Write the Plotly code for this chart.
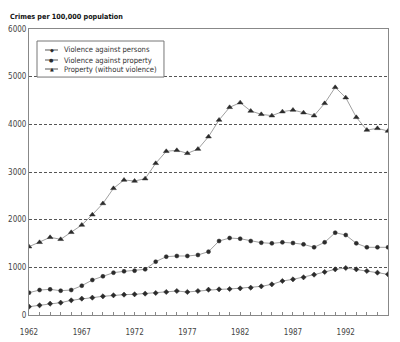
import plotly.graph_objects as go

years = list(range(1962, 1997))

persons = [175, 203, 238, 259, 308, 343, 364, 392, 413, 427, 434, 448, 462, 483, 503, 483, 503,
           531, 538, 545, 559, 573, 601, 643, 713, 748, 790, 846, 902, 958, 986, 958, 923, 888, 853]

property_violent = [468, 524, 538, 510, 524, 615, 734, 811, 888, 916, 930, 958, 1119, 1224, 1238, 1238, 1259,
                    1329, 1552, 1615, 1601, 1552, 1517, 1503, 1524, 1510, 1482, 1420, 1524, 1727, 1678, 1503, 1420, 1420, 1420]

property_nonviolent = [1433, 1525, 1630, 1588, 1735, 1888, 2104, 2340, 2657, 2832, 2811, 2860, 3182, 3434, 3455, 3392, 3480,
                       3741, 4091, 4357, 4455, 4280, 4210, 4182, 4266, 4300, 4245, 4182, 4440, 4776, 4560, 4147, 3881, 3916, 3860]

series_names = ["Violence against persons", "Violence against property", "Property (without violence)"]
series_glyphs = ["◆", "●", "▲"]
y_ticks = [0, 1000, 2000, 3000, 4000, 5000, 6000]
x_ticks = [1962, 1967, 1972, 1977, 1982, 1987, 1992]

FONT = "DejaVu Sans Condensed, Liberation Sans Narrow, Liberation Sans, sans-serif"
LINE = "#a0a0a0"
MARK = "#2b2b2b"

fig = go.Figure()
for name, vals, sym, size in [
    (series_names[0], persons, "diamond", 4),
    (series_names[1], property_violent, "circle", 4),
    (series_names[2], property_nonviolent, "triangle-up", 5),
]:
    fig.add_trace(go.Scatter(
        x=years, y=vals, name=name, mode="lines+markers",
        line=dict(color=LINE, width=1),
        marker=dict(symbol=sym, size=size, color=MARK, line=dict(color=MARK, width=0.5)),
        showlegend=False,
    ))

fig.update_layout(
    width=400, height=342,
    margin=dict(l=29, r=12, t=29, b=27),
    paper_bgcolor="white", plot_bgcolor="white",
    font=dict(family=FONT, size=8, color="#333"),
    xaxis=dict(
        range=[1962, 1996], tickvals=x_ticks, ticks="inside", ticklen=3,
        tickcolor="#888", showgrid=False,
        minor=dict(ticks="inside", ticklen=3, tickcolor="#888", tick0=1962, dtick=1),
        showline=True, linecolor="#888", linewidth=1, mirror=True,
        zeroline=False, tickfont=dict(size=8, color="#444"),
        ticklabelstandoff=9, automargin=False,
    ),
    yaxis=dict(
        range=[0, 6000], tickvals=y_ticks, ticks="", showgrid=True,
        gridcolor="#555", griddash="3px,2px", gridwidth=1,
        showline=True, linecolor="#888", linewidth=1, mirror=True,
        zeroline=False, tickfont=dict(size=8, color="#444"), automargin=False,
    ),
)

# Boxed key in the upper-left corner of the plot area
fig.add_shape(type="rect", xref="paper", yref="paper",
              x0=0.0223, x1=0.376, y0=0.832, y1=0.958,
              line=dict(color="#777", width=1), fillcolor="white", layer="above")
key_rows = [0.9266, 0.8916, 0.8601]
for name, glyph, ky in zip(series_names, series_glyphs, key_rows):
    fig.add_shape(type="line", xref="paper", yref="paper",
                  x0=0.0446, x1=0.0808, y0=ky, y1=ky,
                  line=dict(color="#555", width=1), layer="above")
    fig.add_annotation(text=glyph, xref="paper", yref="paper", x=0.0627, y=ky,
                       xanchor="center", yanchor="middle", showarrow=False,
                       font=dict(family="DejaVu Sans", size=5, color=MARK))
    fig.add_annotation(text=name, xref="paper", yref="paper", x=0.0919, y=ky,
                       xanchor="left", yanchor="middle", showarrow=False,
                       font=dict(family=FONT, size=7.6, color="#333"))

fig.add_annotation(
    text="<b>Crimes per 100,000 population</b>", xref="paper", yref="paper",
    x=-0.058, y=1.0, xanchor="left", yanchor="bottom", yshift=6,
    showarrow=False, font=dict(family=FONT, size=7.2, color="#111"),
)

fig.write_html("out.html")
